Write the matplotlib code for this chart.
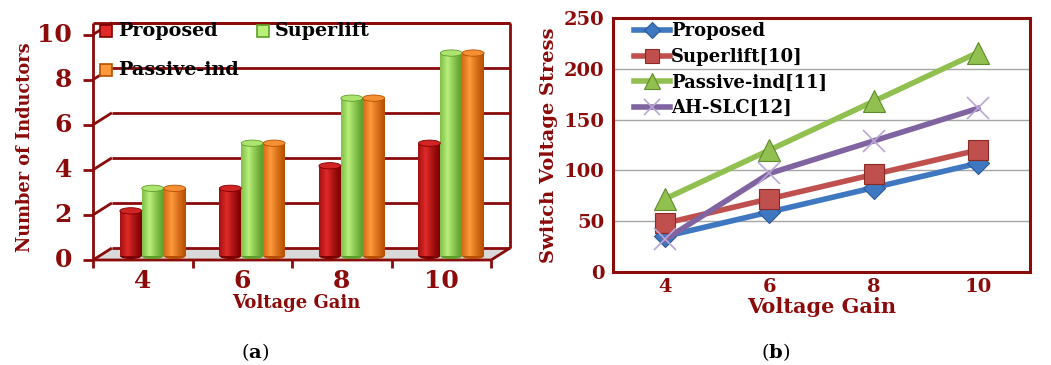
import numpy as np
import matplotlib
matplotlib.use("Agg")
import matplotlib.pyplot as plt
from matplotlib.patches import Ellipse, Polygon
from matplotlib.colors import to_rgb

plt.rcParams['font.family'] = ['DejaVu Serif']
plt.rcParams['mathtext.fontset'] = 'dejavuserif'

# ---- data -------------------------------------------------------------
gains = ["4", "6", "8", "10"]

inductor_series = ["Proposed", "Superlift", "Passive-ind"]
inductors_proposed = [2, 3, 4, 5]
inductors_superlift = [3, 5, 7, 9]
inductors_passive = [3, 5, 7, 9]

stress_series = ["Proposed", "Superlift[10]", "Passive-ind[11]", "AH-SLC[12]"]
stress_proposed = [35, 59, 83, 107]
stress_superlift = [48, 72, 96, 120]
stress_passive = [72, 120, 168, 216]
stress_ahslc = [32, 97, 129, 161]

DARK_RED = "#8B0A0A"
W, H = 1051, 365
fig = plt.figure(figsize=(W / 100, H / 100), dpi=100)


def px_axes(x0, y0, x1, y1):
    """Axes placed by pixel box (left, top, right, bottom)."""
    return fig.add_axes([x0 / W, 1 - y1 / H, (x1 - x0) / W, (y1 - y0) / H])


# ---- (a) pseudo-3D cylinder bars ------------------------------------
ax = px_axes(93, 21.5, 510, 260)
DX, DY = 0.19, 0.53          # depth offset of the back wall
BX, BY = 0.10, 0.18          # depth offset of the bars
ax.set_xlim(-0.5, 3.5 + DX)
ax.set_ylim(0, 10 + DY + 0.05)
ax.axis("off")

line_kw = dict(color=DARK_RED, lw=2.0, clip_on=False, solid_capstyle="butt")
# floor shading
ax.add_patch(Polygon([(-0.5, 0), (3.5, 0), (3.5 + DX, DY), (-0.5 + DX, DY)],
                     closed=True, facecolor="#d9d9d9", edgecolor="none", zorder=1))
# back wall grid and slanted side links
for v in range(0, 11, 2):
    ax.plot([-0.5 + DX, 3.5 + DX], [v + DY, v + DY], zorder=2, **line_kw)
    ax.plot([-0.5, -0.5 + DX], [v, v + DY], zorder=2, **line_kw)
    ax.plot([-0.5 - 0.1, -0.5], [v, v], zorder=2, **line_kw)
# outer frame
ax.plot([-0.5, -0.5], [0, 10 + DY], zorder=2, **line_kw)
ax.plot([-0.5, 3.5 + DX], [10 + DY, 10 + DY], zorder=2, **line_kw)
ax.plot([3.5 + DX, 3.5 + DX], [DY, 10 + DY], zorder=2, **line_kw)
ax.plot([-0.5, 3.5, 3.5 + DX], [0, 0, DY], zorder=2, **line_kw)
for b in np.arange(-0.5, 3.6, 1.0):
    ax.plot([b, b], [0, -0.35], zorder=2, **line_kw)

# tick labels
for v in range(0, 11, 2):
    ax.text(-0.71, v, str(v), ha="right", va="center", fontsize=18,
            fontweight="bold", color=DARK_RED)
x = np.arange(len(gains))
for xi, g in zip(x, gains):
    ax.text(xi, -0.38, g, ha="center", va="top", fontsize=18,
            fontweight="bold", color=DARK_RED)
ax.text(1.54, -1.5, "Voltage Gain", ha="center", va="top", fontsize=13,
        fontweight="bold", color=DARK_RED)
ax.text(-0.5 - 0.68, 5.0, "Number of Inductors", rotation=90, ha="center",
        va="center", fontsize=12.8, fontweight="bold", color=DARK_RED)

bar_w = 0.22
bar_colors = [("#7d0000", "#e02a2a"), ("#5f9e2a", "#b8f07a"), ("#b84f00", "#ff9a3c")]
bar_values = [inductors_proposed, inductors_superlift, inductors_passive]


def shade(dark, light, n=64):
    t = np.linspace(0, 1, n)
    prof = np.clip(1 - np.abs(t - 0.35) / 0.65, 0, 1) ** 1.2
    d, l = np.array(to_rgb(dark)), np.array(to_rgb(light))
    return (d[None, :] * (1 - prof[:, None]) + l[None, :] * prof[:, None])[None, :, :]


for k, (vals, (dark, light)) in enumerate(zip(bar_values, bar_colors)):
    xs = x + BX + (k - 1) * bar_w
    bars = ax.bar(xs, vals, width=bar_w, bottom=BY, color=dark, zorder=3,
                  linewidth=0)
    for rect in bars:
        x0, y0 = rect.get_x(), rect.get_y()
        w, h = rect.get_width(), rect.get_height()
        im = ax.imshow(shade(dark, light), extent=[x0, x0 + w, y0, y0 + h],
                       aspect="auto", zorder=3.1, interpolation="bilinear")
        im.set_clip_path(rect)
        ax.add_patch(Ellipse((x0 + w / 2, y0), w, 0.28, facecolor=dark,
                             edgecolor="none", zorder=2.9))
        top_rgb = np.array(to_rgb(light)) * 0.85 + np.array(to_rgb(dark)) * 0.15
        ax.add_patch(Ellipse((x0 + w / 2, y0 + h), w, 0.28, facecolor=top_rgb,
                             edgecolor=dark, lw=0.6, zorder=3.2))

# legend of (a)
leg_items = [(0, 10.15, 0), (1, 10.15, 1.58), (2, 8.42, 0)]
for k, yv, xoff in leg_items:
    dark, light = bar_colors[k]
    ax.add_patch(Polygon([(-0.43 + xoff, yv - 0.27), (-0.31 + xoff, yv - 0.27),
                          (-0.31 + xoff, yv + 0.27), (-0.43 + xoff, yv + 0.27)],
                         closed=True, facecolor=light, edgecolor=dark, lw=1.2, zorder=4))
    ax.text(-0.25 + xoff, yv, inductor_series[k], ha="left", va="center",
            fontsize=13.8, fontweight="bold", color="black", zorder=4)

# ---- (b) switch voltage stress ----------------------------------------
bx = px_axes(613, 18, 1030, 272)
bx.set_xlim(-0.5, 3.5)
bx.set_ylim(0, 250)
for s in bx.spines.values():
    s.set_color(DARK_RED)
    s.set_linewidth(2.2)
bx.set_yticks(range(0, 251, 50))
bx.set_xticks(x)
bx.set_xticklabels(gains)
bx.tick_params(axis="both", length=0, labelsize=14, labelcolor=DARK_RED, pad=6)
bx.tick_params(axis="x", pad=4)
for lab in bx.get_xticklabels() + bx.get_yticklabels():
    lab.set_fontweight("bold")
bx.yaxis.grid(True, color="#a6a6a6", lw=1)
bx.set_axisbelow(True)
bx.set_xlabel("Voltage Gain", fontsize=15, fontweight="bold", color=DARK_RED,
              labelpad=1)
bx.set_ylabel("Switch Voltage Stress", fontsize=14, fontweight="bold",
              color=DARK_RED, labelpad=4)

line_specs = [
    (stress_proposed, "#3f77c0", "D", 11, "#2a5a9a"),
    (stress_superlift, "#c0504d", "s", 15, "#8c2a27"),
    (stress_passive, "#92c050", "^", 16, "#5e8a2a"),
    (stress_ahslc, "#8064a2", "x", 16, "#b9a6d4"),
]
for (vals, col, mk, ms, mec), name in zip(line_specs, stress_series):
    if mk == "x":
        bx.plot(x, vals, color=col, lw=4, marker=mk, ms=ms, mec=mec, mew=1.2,
                label=name, zorder=3)
    else:
        bx.plot(x, vals, color=col, lw=4, marker=mk, ms=ms, mfc=col, mec=mec,
                mew=0.8, label=name, zorder=3)
leg = bx.legend(loc="upper left", bbox_to_anchor=(0.02, 1.033), frameon=False,
                handlelength=2.0, handletextpad=0.05, labelspacing=0.42,
                borderaxespad=0.3, markerscale=0.7,
                prop=dict(family="DejaVu Serif", weight="bold", size=13))

# ---- captions -----------------------------------------------------------
fig.text(255 / W, 1 - 352 / H, r"($\mathbf{a}$)", ha="center", va="center",
         fontsize=14, color="black")
fig.text(776 / W, 1 - 352 / H, r"($\mathbf{b}$)", ha="center", va="center",
         fontsize=14, color="black")

fig.savefig("out.png", dpi=100)
